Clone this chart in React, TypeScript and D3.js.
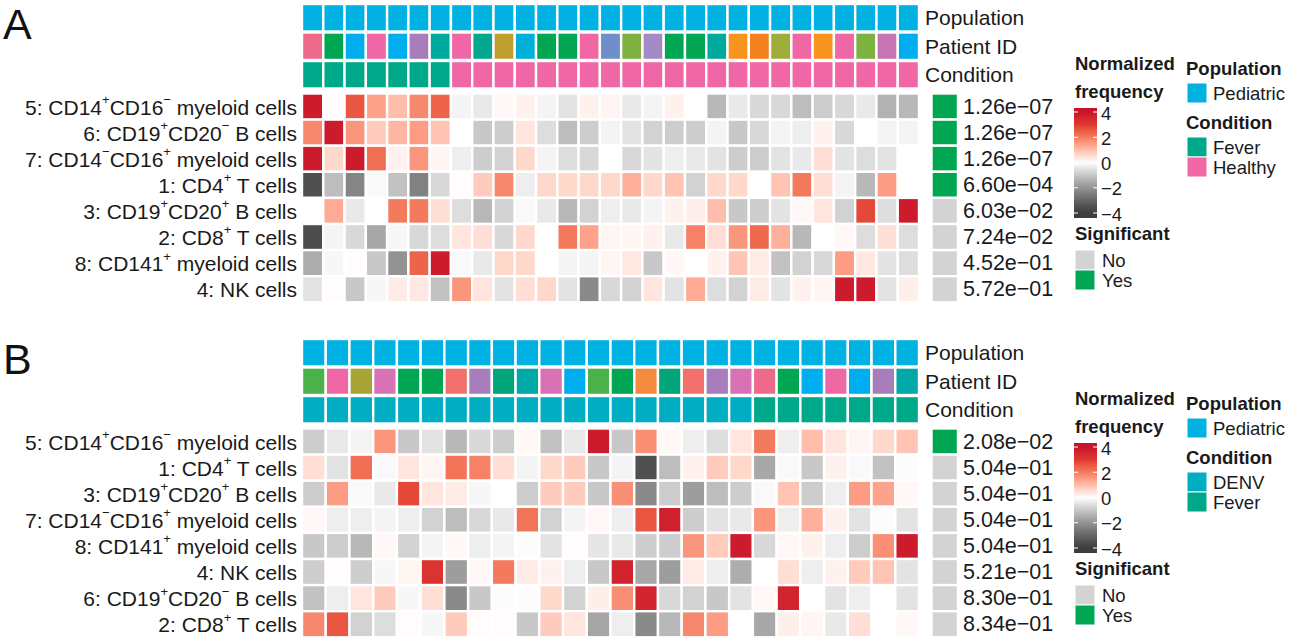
import React from "react";
import * as d3 from "d3";

const FONT = "'Liberation Sans', Arial, Helvetica, sans-serif";

// ---------- Panel A data ----------
const rowLabelsA = [
  "5: CD14^+CD16^− myeloid cells",
  "6: CD19^+CD20^− B cells",
  "7: CD14^−CD16^+ myeloid cells",
  "1: CD4^+ T cells",
  "3: CD19^+CD20^+ B cells",
  "2: CD8^+ T cells",
  "8: CD141^+ myeloid cells",
  "4: NK cells",
];
const valuesA = [
  [3.8, 0.05, 2.6, 1.4, 1.0, 1.8, 2.4, -0.2, -0.4, 0.1, 0.2, -0.2, -0.5, 0.2, 0.15, -0.4, -0.2, 0.2, 0, -1.3, -0.4, -0.7, -0.7, -1.2, -0.9, -0.7, -0.4, -1.4, -1.3],
  [1.8, 3.8, 1.6, 0.8, 1.1, 1.5, 0.9, 0, -1.0, -0.9, 0.4, -0.6, -1.2, -0.9, -0.2, -0.5, -0.8, -0.9, -0.9, -0.2, -1.0, -0.7, -0.2, -0.3, 0.2, -0.7, 0, -0.2, -0.2],
  [3.8, 0.6, 3.8, 2.2, 0.2, 1.6, 0.15, -0.3, -0.9, -0.8, 0.6, -0.2, -0.6, -0.7, 0, -0.7, -0.5, -0.3, -0.4, -0.5, -0.9, -0.9, -0.5, -0.4, 0.5, -0.5, -0.6, -0.5, 0],
  [-3.5, -1.2, -2.3, -0.1, -1.1, -2.4, -0.7, 0.05, 0.8, 1.8, -0.3, 0.6, 0.6, 0.6, 0.6, 1.2, 0.6, 0.9, -0.8, 0.6, 0.6, 0, 0.9, 2.0, 0.5, -0.2, -1.3, 1.5, 0],
  [0, 1.3, -0.4, 0, 2.0, 2.0, 0.5, -0.6, -1.3, -0.8, -0.1, -0.4, -1.3, -0.8, -0.3, -0.4, -0.2, 0.2, 0.25, 1.0, -1.0, -0.9, -0.5, 0.1, 0.4, -0.8, 2.8, -0.6, 3.8],
  [-3.6, -0.2, -0.7, -1.6, -0.15, -0.7, -0.6, 0.4, 0.5, -0.7, 0.6, 0, 2.0, 1.4, 0.15, 0.15, 0.2, -0.4, 1.9, 0.5, 1.6, 2.3, 1.2, -1.3, 0, 0.1, -0.6, 0.5, -0.6],
  [-1.5, -0.15, 0.05, -1.0, -2.0, 2.4, 3.8, -0.1, -0.4, 0.6, 0.6, 0, -0.2, -0.2, 0.15, 0.35, -1.0, 0.1, 0, 0.2, 0.9, 0.3, -1.1, -0.8, -0.7, 1.5, 0.35, -0.5, -0.6],
  [-0.5, 0.05, -1.0, -0.15, 0.3, 0.35, -1.1, 1.6, 0.4, -0.5, 0.5, 0.6, -0.5, -2.2, -0.7, -0.8, 0.4, -0.5, 1.3, -0.6, -0.8, 0.3, -0.5, 0.2, 0.15, 3.8, 3.8, -0.5, 0.25],
];
const pValuesA = [1.26e-7, 1.26e-7, 1.26e-7, 6.6e-4, 6.03e-2, 7.24e-2, 4.52e-1, 5.72e-1];
const significantA = ["Yes", "Yes", "Yes", "Yes", "No", "No", "No", "No"];
const patientA = ["P01", "P02", "P03", "P04", "P03", "P05", "P06", "P04", "P07", "P08", "P09", "P02", "P02", "P04", "P10", "P11", "P12", "P02", "P02", "P06", "P13", "P14", "P15", "P04", "P13", "P04", "P11", "P16", "P03"];
const conditionA = ["Fever", "Fever", "Fever", "Fever", "Fever", "Fever", "Fever", "Healthy", "Healthy", "Healthy", "Healthy", "Healthy", "Healthy", "Healthy", "Healthy", "Healthy", "Healthy", "Healthy", "Healthy", "Healthy", "Healthy", "Healthy", "Healthy", "Healthy", "Healthy", "Healthy", "Healthy", "Healthy", "Healthy"];
const conditionLegendA = ["Fever", "Healthy"];

// ---------- Panel B data ----------
const rowLabelsB = [
  "5: CD14^+CD16^− myeloid cells",
  "1: CD4^+ T cells",
  "3: CD19^+CD20^+ B cells",
  "7: CD14^−CD16^+ myeloid cells",
  "8: CD141^+ myeloid cells",
  "4: NK cells",
  "6: CD19^+CD20^− B cells",
  "2: CD8^+ T cells",
];
const valuesB = [
  [-0.9, -0.4, -0.2, 1.6, -1.0, -0.5, -1.3, -0.7, -0.9, 0.1, -1.1, -0.4, 3.8, -1.0, 1.7, 0.1, -0.3, -0.6, 0.4, 2.0, -0.3, 1.0, 0.4, 0.15, 0.6, 0.9],
  [0.5, -0.5, 2.2, -0.1, 0.4, 0.15, 2.1, 1.9, 0.5, -0.2, 0.6, 0.8, -1.0, -0.2, -3.5, -1.2, 0.2, 0.8, 0.6, -1.6, -0.1, -1.0, 0.2, -0.1, -1.1, -0.05],
  [-0.9, 1.5, -0.1, -0.4, 2.8, 0.4, 0.3, -0.15, 0, -0.9, 0.8, 0.8, -1.0, 1.7, -2.2, -0.9, -1.8, -1.2, -0.9, -0.1, 0.9, -0.9, -0.3, 1.5, 1.4, 0.1],
  [0.1, -0.3, -0.3, -0.2, -0.3, -0.8, -1.2, -0.7, -0.4, 2.1, -0.8, -0.2, 0.1, -0.3, 2.6, 3.7, -0.9, -0.5, -0.4, 1.6, -0.3, 1.2, 0.2, -0.5, -0.05, -0.5],
  [-1.0, -0.9, -1.3, 0.1, -0.8, -0.2, 0.1, -0.3, -0.2, -0.05, -0.5, 0.05, -0.45, -0.4, -0.9, -0.9, 1.6, 0.8, 3.8, -0.7, 0.1, 0.2, -0.3, -0.9, 1.7, 3.8],
  [-0.9, 0.05, -0.9, -0.15, 0.15, 3.2, -1.8, 0.1, 2.0, 0.3, 0.2, -0.3, -1.0, 3.6, -1.6, -1.8, 0.3, -0.3, -1.5, 0, 0.5, -0.3, 0.2, 0.8, 0.9, -0.5],
  [-1.1, -0.3, 0.4, 0.8, -0.15, 0.5, -2.2, -1.0, -0.05, -0.05, 0.6, -0.8, 0.25, 1.7, 3.6, -0.7, -0.8, -1.0, -0.5, 0.1, 3.6, 0, -0.5, -0.3, 0, -0.5],
  [1.8, 2.6, -0.8, -0.6, 0.05, -0.15, 0.8, 0.05, 0.05, -1.0, 0.8, 0.4, -1.65, -0.3, -2.2, -1.3, 1.8, 1.5, 0, -1.6, 0.25, 0.15, -0.4, 0.5, 0, 0.1],
];
const pValuesB = [2.08e-2, 5.04e-1, 5.04e-1, 5.04e-1, 5.04e-1, 5.21e-1, 8.3e-1, 8.34e-1];
const significantB = ["Yes", "No", "No", "No", "No", "No", "No", "No"];
const patientB = ["P17", "P04", "P18", "P19", "P02", "P02", "P20", "P05", "P23", "P21", "P19", "P03", "P17", "P02", "P22", "P23", "P20", "P05", "P19", "P01", "P02", "P03", "P04", "P03", "P05", "P21"];
const conditionB = ["DENV", "DENV", "DENV", "DENV", "DENV", "DENV", "DENV", "DENV", "DENV", "DENV", "DENV", "DENV", "DENV", "DENV", "DENV", "DENV", "DENV", "DENV", "DENV", "Fever", "Fever", "Fever", "Fever", "Fever", "Fever", "Fever"];
const conditionLegendB = ["DENV", "Fever"];

const colorTicks = [4, 2, 0, -2, -4];

// ---------- palettes ----------
const patientColors: Record<string, string> = {
  P01: "#EE6A8B", P02: "#00A651", P03: "#00AEEF", P04: "#F067A6", P05: "#A87DBB",
  P06: "#00A99D", P07: "#00A78E", P08: "#BFA02E", P09: "#00B0D8", P10: "#6E8FCA",
  P11: "#7DB140", P12: "#A58BC6", P13: "#F7941D", P14: "#F5821F", P15: "#9FAE3A",
  P16: "#C674B4", P17: "#4BB249", P18: "#A8A535", P19: "#D872B4", P20: "#F2706A",
  P21: "#00A9A8", P22: "#F68B3E", P23: "#00A679",
};
const conditionColors: Record<string, string> = {
  Fever: "#00A88A", Healthy: "#F067A6", DENV: "#00ADC2",
};
const populationColor = "#00B2E2";
const sigColors: Record<string, string> = { Yes: "#00A651", No: "#D3D3D3" };

const heatColor = d3
  .scaleLinear<string>()
  .domain([-4, -2, 0, 2, 3, 4])
  .range(["#3C3C3C", "#939393", "#FFFFFF", "#F47A5E", "#E0392F", "#C8102E"])
  .interpolate(d3.interpolateLab)
  .clamp(true);

function fmtP(p: number) {
  const [m, e] = p.toExponential(2).split("e");
  const n = parseInt(e, 10);
  const sign = n < 0 ? "−" : "+";
  return `${m}e${sign}${String(Math.abs(n)).padStart(2, "0")}`;
}

function RichText({ x, y, text, anchor = "start", size = 21, weight = "normal" }: any) {
  const parts = text.split(/(\^[+−])/).filter((s: string) => s.length);
  let raised = false;
  const kids: any[] = [];
  parts.forEach((p: string, i: number) => {
    if (p.startsWith("^")) {
      kids.push(
        <tspan key={i} dy={raised ? 0 : -size * 0.36} fontSize={size * 0.62}>
          {p.slice(1)}
        </tspan>
      );
      raised = true;
    } else {
      kids.push(
        <tspan key={i} dy={raised ? size * 0.36 : 0}>
          {p}
        </tspan>
      );
      raised = false;
    }
  });
  return (
    <text x={x} y={y} textAnchor={anchor} dominantBaseline="central" fontSize={size} fontFamily={FONT} fontWeight={weight} fill="#1a1a1a">
      {kids}
    </text>
  );
}

function Panel({ yOff, letter, labels, values, pvals, sig, patients, conditions, condLegend, gradId }: any) {
  const nCol = values[0].length;
  const x = d3.scaleBand<number>().domain(d3.range(nCol)).range([302, 919]);
  const y = d3.scaleBand<number>().domain(d3.range(labels.length)).range([93.5 + yOff, 302.3 + yOff]);
  const annTop = [4 + yOff, 32.5 + yOff, 61 + yOff];
  const annH = 27.5;
  const annNames = ["Population", "Patient ID", "Condition"];
  const annColor = [
    (_: number) => populationColor,
    (i: number) => patientColors[patients[i]],
    (i: number) => conditionColors[conditions[i]],
  ];
  const sw = 2.4;

  // legend colour bar
  const barTop = 108 + yOff, barBot = 218 + yOff;
  const ly = d3.scaleLinear().domain([4, -4]).range([112 + yOff, 213 + yOff]);
  const vTop = ly.invert(barTop), vBot = ly.invert(barBot);
  const stops = d3.range(0, 1.0001, 0.05).map((t) => ({ t, c: heatColor(vTop + (vBot - vTop) * t) }));

  return (
    <g>
      <text x={3} y={39 + yOff} fontSize={43} fontFamily={FONT} fill="#111">{letter}</text>
      {annNames.map((name, k) => (
        <g key={name}>
          {d3.range(nCol).map((i) => (
            <rect key={i} x={x(i)} y={annTop[k]} width={x.bandwidth()} height={annH}
              fill={annColor[k](i)} stroke="#fff" strokeWidth={sw} />
          ))}
          <text x={925} y={annTop[k] + annH / 2} dominantBaseline="central" fontSize={21} fontFamily={FONT} fill="#1a1a1a">{name}</text>
        </g>
      ))}
      {values.map((row: number[], r: number) => (
        <g key={r}>
          {row.map((v, i) => (
            <rect key={i} x={x(i)} y={y(r)} width={x.bandwidth()} height={y.bandwidth()}
              fill={heatColor(v)} stroke="#fff" strokeWidth={sw} />
          ))}
          <RichText x={297} y={(y(r) as number) + y.bandwidth() / 2} text={labels[r]} anchor="end" size={21} />
          <rect x={931.5} y={y(r)} width={26.5} height={y.bandwidth()} fill={sigColors[sig[r]]} stroke="#fff" strokeWidth={sw} />
          <text x={963} y={(y(r) as number) + y.bandwidth() / 2} dominantBaseline="central" fontSize={21.5} fontFamily={FONT} fill="#1a1a1a">{fmtP(pvals[r])}</text>
        </g>
      ))}
      {/* Normalized frequency legend */}
      <text x={1075} y={63 + yOff} dominantBaseline="central" fontSize={18.5} fontWeight="bold" fontFamily={FONT} fill="#1a1a1a">Normalized</text>
      <text x={1075} y={91 + yOff} dominantBaseline="central" fontSize={18.5} fontWeight="bold" fontFamily={FONT} fill="#1a1a1a">frequency</text>
      <defs>
        <linearGradient id={gradId} x1="0" y1="0" x2="0" y2="1">
          {stops.map((s) => (
            <stop key={s.t} offset={s.t} stopColor={s.c} />
          ))}
        </linearGradient>
      </defs>
      <rect x={1074} y={barTop} width={23} height={barBot - barTop} fill={`url(#${gradId})`} />
      {colorTicks.map((t) => (
        <g key={t}>
          <line x1={1074} x2={1078} y1={ly(t)} y2={ly(t)} stroke="#fff" strokeWidth={1} />
          <line x1={1093} x2={1097} y1={ly(t)} y2={ly(t)} stroke="#fff" strokeWidth={1} />
          <text x={1101} y={ly(t) + 1} dominantBaseline="central" fontSize={18.5} fontFamily={FONT} fill="#1a1a1a">{t < 0 ? `−${-t}` : t}</text>
        </g>
      ))}
      {/* Significant legend */}
      <text x={1075} y={233 + yOff} dominantBaseline="central" fontSize={18.5} fontWeight="bold" fontFamily={FONT} fill="#1a1a1a">Significant</text>
      {["No", "Yes"].map((s, k) => (
        <g key={s}>
          <rect x={1075} y={250 + yOff + k * 20} width={20} height={20} fill={sigColors[s]} stroke="#fff" strokeWidth={1} />
          <text x={1102} y={260 + yOff + k * 20} dominantBaseline="central" fontSize={18.5} fontFamily={FONT} fill="#1a1a1a">{s}</text>
        </g>
      ))}
      {/* Population / Condition legend */}
      <text x={1186} y={68 + yOff} dominantBaseline="central" fontSize={18.5} fontWeight="bold" fontFamily={FONT} fill="#1a1a1a">Population</text>
      <rect x={1187} y={83 + yOff} width={20} height={20} fill={populationColor} stroke="#fff" strokeWidth={1} />
      <text x={1213} y={93 + yOff} dominantBaseline="central" fontSize={18.5} fontFamily={FONT} fill="#1a1a1a">Pediatric</text>
      <text x={1186} y={122 + yOff} dominantBaseline="central" fontSize={18.5} fontWeight="bold" fontFamily={FONT} fill="#1a1a1a">Condition</text>
      {condLegend.map((c: string, k: number) => (
        <g key={c}>
          <rect x={1187} y={137 + yOff + k * 20} width={20} height={20} fill={conditionColors[c]} stroke="#fff" strokeWidth={1} />
          <text x={1213} y={147.5 + yOff + k * 20} dominantBaseline="central" fontSize={18.5} fontFamily={FONT} fill="#1a1a1a">{c}</text>
        </g>
      ))}
    </g>
  );
}

export default function App() {
  return (
    <svg width={1289} height={641} style={{ position: "absolute", left: 0, top: 0, display: "block" }}>
      <rect width={1289} height={641} fill="#fff" />
      <Panel yOff={0} letter="A" labels={rowLabelsA} values={valuesA} pvals={pValuesA} sig={significantA}
        patients={patientA} conditions={conditionA} condLegend={conditionLegendA} gradId="gradA" />
      <Panel yOff={335} letter="B" labels={rowLabelsB} values={valuesB} pvals={pValuesB} sig={significantB}
        patients={patientB} conditions={conditionB} condLegend={conditionLegendB} gradId="gradB" />
    </svg>
  );
}
